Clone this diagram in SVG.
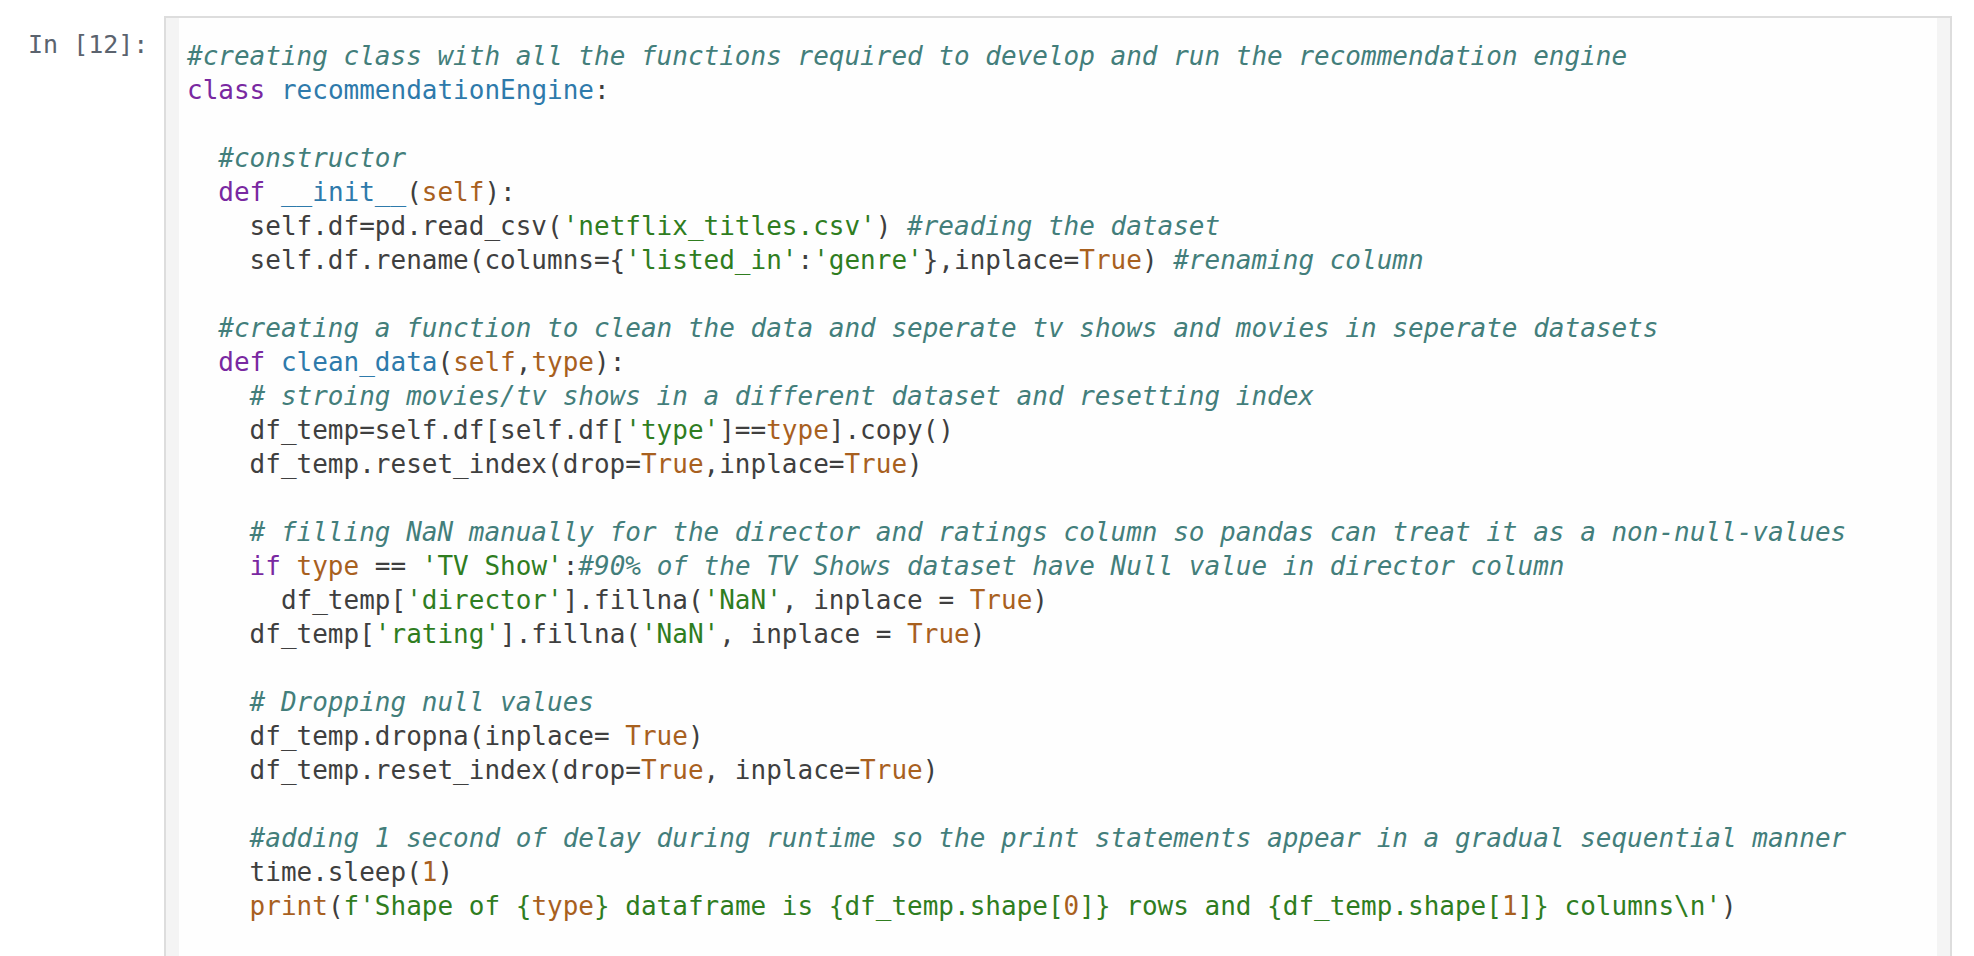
<svg xmlns="http://www.w3.org/2000/svg" width="1974" height="956" viewBox="0 0 1974 956">
<style>
text{font-family:"DejaVu Sans Mono","Liberation Mono",monospace;font-size:26px;fill:#3f3f3f;white-space:pre}
.p{fill:#5b636e;font-size:25px}
.c{fill:#437e7b;font-style:italic}
.k{fill:#7928a1}
.n{fill:#2e7aab}
.b{fill:#a8601e}
.s{fill:#2f7d1f}
</style>
<rect x="0" y="0" width="1974" height="956" fill="#ffffff"/>
<g id="cell">
<rect x="165" y="17" width="1786" height="960" fill="#fefefe" stroke="#dddddd" stroke-width="2"/>
<rect x="166" y="18" width="13" height="940" fill="#f4f4f4"/>
<rect x="1937" y="18" width="13" height="940" fill="#f4f4f4"/>
</g>
<text class="p" x="28" y="53">In [12]:</text>
<g id="code">
<text x="187" y="65" class="c">#creating class with all the functions required to develop and run the recommendation engine</text>
<text x="187" y="99"><tspan class="k">class</tspan> <tspan class="n">recommendationEngine</tspan>:</text>
<text x="218.3" y="167" class="c">#constructor</text>
<text x="218.3" y="201"><tspan class="k">def</tspan> <tspan class="n">__init__</tspan>(<tspan class="b">self</tspan>):</text>
<text x="249.6" y="235">self.df=pd.read_csv(<tspan class="s">'netflix_titles.csv'</tspan>) <tspan class="c">#reading the dataset</tspan></text>
<text x="249.6" y="269">self.df.rename(columns={<tspan class="s">'listed_in'</tspan>:<tspan class="s">'genre'</tspan>},inplace=<tspan class="b">True</tspan>) <tspan class="c">#renaming column</tspan></text>
<text x="218.3" y="337" class="c">#creating a function to clean the data and seperate tv shows and movies in seperate datasets</text>
<text x="218.3" y="371"><tspan class="k">def</tspan> <tspan class="n">clean_data</tspan>(<tspan class="b">self</tspan>,<tspan class="b">type</tspan>):</text>
<text x="249.6" y="405" class="c"># stroing movies/tv shows in a different dataset and resetting index</text>
<text x="249.6" y="439">df_temp=self.df[self.df[<tspan class="s">'type'</tspan>]==<tspan class="b">type</tspan>].copy()</text>
<text x="249.6" y="473">df_temp.reset_index(drop=<tspan class="b">True</tspan>,inplace=<tspan class="b">True</tspan>)</text>
<text x="249.6" y="541" class="c"># filling NaN manually for the director and ratings column so pandas can treat it as a non-null-values</text>
<text x="249.6" y="575"><tspan class="k">if</tspan> <tspan class="b">type</tspan> == <tspan class="s">'TV Show'</tspan>:<tspan class="c">#90% of the TV Shows dataset have Null value in director column</tspan></text>
<text x="280.9" y="609">df_temp[<tspan class="s">'director'</tspan>].fillna(<tspan class="s">'NaN'</tspan>, inplace = <tspan class="b">True</tspan>)</text>
<text x="249.6" y="643">df_temp[<tspan class="s">'rating'</tspan>].fillna(<tspan class="s">'NaN'</tspan>, inplace = <tspan class="b">True</tspan>)</text>
<text x="249.6" y="711" class="c"># Dropping null values</text>
<text x="249.6" y="745">df_temp.dropna(inplace= <tspan class="b">True</tspan>)</text>
<text x="249.6" y="779">df_temp.reset_index(drop=<tspan class="b">True</tspan>, inplace=<tspan class="b">True</tspan>)</text>
<text x="249.6" y="847" class="c">#adding 1 second of delay during runtime so the print statements appear in a gradual sequential manner</text>
<text x="249.6" y="881">time.sleep(<tspan class="b">1</tspan>)</text>
<text x="249.6" y="915"><tspan class="b">print</tspan>(<tspan class="s">f'Shape of {</tspan><tspan class="b">type</tspan><tspan class="s">} dataframe is {df_temp.shape[</tspan><tspan class="b">0</tspan><tspan class="s">]} rows and {df_temp.shape[</tspan><tspan class="b">1</tspan><tspan class="s">]} columns\n'</tspan>)</text>
</g>
</svg>
